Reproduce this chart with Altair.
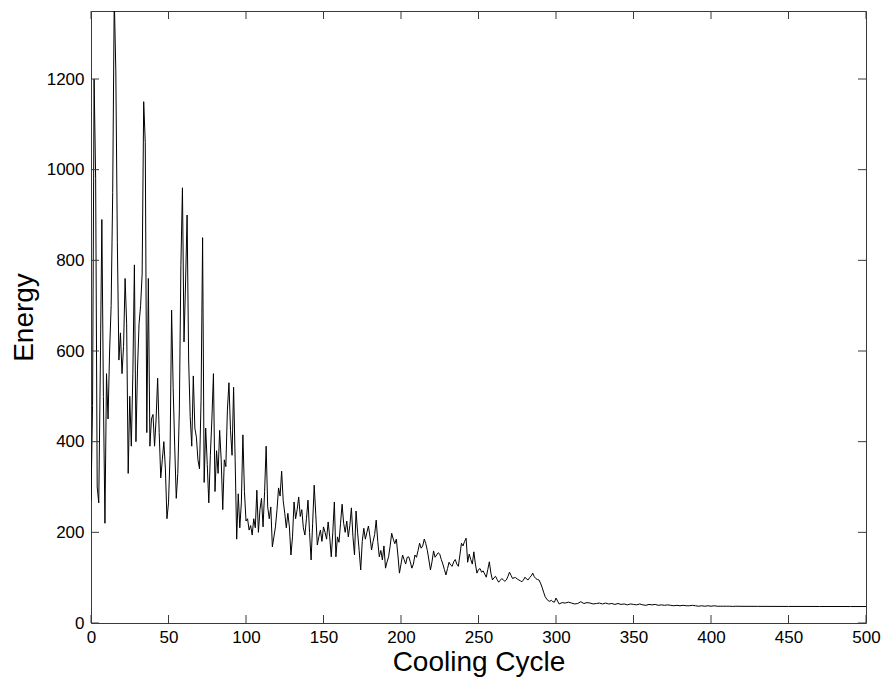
import altair as alt
import pandas as pd

# ---- data ----
cycle_dense = list(range(0, 301))
energy_dense = [
    270, 480, 1200, 980, 300, 265, 560, 890, 500, 220,      # 0-9
    550, 450, 600, 700, 950, 1380, 1220, 840, 580, 640,     # 10-19
    550, 610, 760, 660, 330, 500, 390, 550, 790, 400,       # 20-29
    560, 660, 700, 770, 1150, 1060, 420, 760, 390, 450,     # 30-39
    460, 390, 450, 540, 420, 320, 360, 400, 340, 230,       # 40-49
    265, 370, 690, 520, 390, 275, 330, 470, 790, 960,       # 50-59
    620, 750, 900, 580, 455, 390, 545, 430, 410, 360,       # 60-69
    340, 490, 850, 310, 430, 350, 265, 370, 450, 550,       # 70-79
    290, 380, 330, 425, 360, 250, 360, 345, 470, 530,       # 80-89
    425, 370, 520, 360, 185, 285, 210, 265, 415, 290,       # 90-99
    225, 230, 205, 215, 194, 230, 210, 293, 200, 250,       # 100-109
    275, 212, 290, 390, 256, 230, 256, 168, 190, 212,       # 110-119
    250, 298, 280, 335, 270, 242, 210, 242, 212, 150,       # 120-129
    190, 267, 230, 250, 278, 235, 250, 210, 194, 230,       # 130-139
    271, 200, 139, 220, 304, 240, 172, 190, 205, 180,       # 140-149
    212, 200, 185, 223, 190, 146, 200, 267, 146, 190,       # 150-159
    178, 220, 262, 220, 200, 225, 190, 215, 254, 190,       # 160-169
    150, 247, 200, 160, 117, 180, 209, 185, 200, 214,       # 170-179
    190, 161, 180, 195, 227, 180, 146, 160, 139, 170,       # 180-189
    121, 135, 146, 170, 198, 185, 175, 185, 150, 110,       # 190-199
    130, 150, 140, 130, 145, 146, 135, 121, 130, 150,       # 200-209
    145, 160, 176, 165, 170, 185, 175, 160, 139, 117,       # 210-219
    135, 159, 145, 150, 155, 152, 140, 130, 118, 106,       # 220-229
    120, 134, 128, 125, 135, 140, 130, 125, 150, 176,       # 230-239
    170, 180, 187, 134, 152, 140, 130, 157, 130, 110,       # 240-249
    118, 120, 112, 115, 108, 101, 118, 135, 110, 95,        # 250-259
    100, 103, 96, 90, 94, 98, 95, 92, 95, 103,              # 260-269
    112, 105, 98, 100, 100, 97, 95, 93, 91, 95,             # 270-279
    101, 97, 95, 100, 104, 110, 102, 98, 96, 95,            # 280-289
    88, 79, 68, 58, 53, 49, 48, 50, 47, 46,                 # 290-299
    55,                                                     # 300
]
cycle_tail = list(range(302, 418, 2)) + [420, 430, 440, 450, 460, 470, 480, 490, 500]
energy_tail = [
    42, 45, 44, 46, 44, 42, 43, 47, 43, 45,
    44, 42, 43, 44, 42, 44, 42, 43, 41, 43,
    41, 42, 40, 42, 41, 40, 42, 40, 39, 41,
    40, 41, 39, 40, 39, 40, 39, 38, 39, 38,
    39, 38, 38, 39, 38, 37, 38, 37, 38, 37,
    38, 37, 37, 37, 37, 37, 36.5, 37,
    36.8, 36.7, 36.6, 36.5, 36.5, 36.4, 36.4, 36.3, 36.3,
]

x_ticks = [0, 50, 100, 150, 200, 250, 300, 350, 400, 450, 500]
y_ticks = [0, 200, 400, 600, 800, 1000, 1200]

df = pd.DataFrame({
    "cycle": cycle_dense + cycle_tail,
    "energy": energy_dense + energy_tail,
})
xt = pd.DataFrame({"cycle": x_ticks})
yt = pd.DataFrame({"energy": y_ticks})

W, H = 775, 612
TICK = 8
FONT = "Liberation Sans"
FRAME = "#3a3a3a"

x_scale = alt.Scale(domain=[0, 500], nice=False, zero=False)
y_scale = alt.Scale(domain=[0, 1350], nice=False, zero=False)
x_axis = alt.Axis(values=x_ticks, title="Cooling Cycle", format="d", labelPadding=6,
                  titlePadding=3, labelFlush=False, labelOverlap=False)
y_axis = alt.Axis(values=y_ticks, title="Energy", format="d", labelPadding=7,
                  titlePadding=8, labelFlush=False, labelOverlap=False)

line = alt.Chart(df).mark_line(color="black", strokeWidth=1, clip=True).encode(
    x=alt.X("cycle:Q", scale=x_scale, axis=x_axis),
    y=alt.Y("energy:Q", scale=y_scale, axis=y_axis),
)

bottom_ticks = alt.Chart(xt).mark_rule(color=FRAME, strokeWidth=1).encode(
    x=alt.X("cycle:Q", scale=x_scale, axis=x_axis),
    y=alt.value(H), y2=alt.value(H - TICK))
top_ticks = alt.Chart(xt).mark_rule(color=FRAME, strokeWidth=1).encode(
    x=alt.X("cycle:Q", scale=x_scale, axis=x_axis),
    y=alt.value(0), y2=alt.value(TICK))
left_ticks = alt.Chart(yt).mark_rule(color=FRAME, strokeWidth=1).encode(
    y=alt.Y("energy:Q", scale=y_scale, axis=y_axis),
    x=alt.value(0), x2=alt.value(TICK))
right_ticks = alt.Chart(yt).mark_rule(color=FRAME, strokeWidth=1).encode(
    y=alt.Y("energy:Q", scale=y_scale, axis=y_axis),
    x=alt.value(W), x2=alt.value(W - TICK))

chart = alt.layer(line, bottom_ticks, top_ticks, left_ticks, right_ticks).properties(
    width=W, height=H,
    autosize=alt.AutoSizeParams(type="none"),
    padding={"left": 91, "top": 11, "right": 885 - 91 - W, "bottom": 683 - 11 - H},
    background="white",
).configure_view(
    stroke=FRAME, strokeWidth=1,
).configure_axis(
    ticks=False, tickSize=0, domain=False, grid=False,
    labelFont=FONT, labelFontSize=17, labelColor="black",
    titleFont=FONT, titleFontSize=28, titleColor="black", titleFontWeight="normal",
)

chart.save("out.html", embed_options={"renderer": "svg", "actions": False})
